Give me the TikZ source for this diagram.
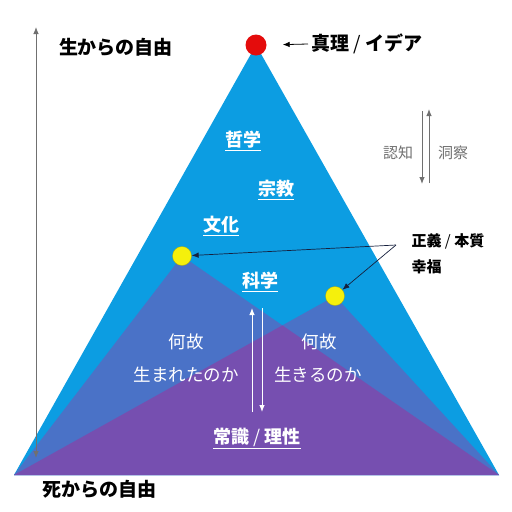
\documentclass[tikz,border=0pt]{standalone}
\usepackage{fontspec}
\setmainfont{Noto Sans CJK JP}
\usetikzlibrary{arrows.meta}
\definecolor{skyblue}{RGB}{12,157,226}
\definecolor{midblue}{RGB}{74,114,199}
\definecolor{deeppurple}{RGB}{118,79,176}
\definecolor{dotyellow}{RGB}{245,240,12}
\definecolor{dotred}{RGB}{228,12,12}
\definecolor{navy}{RGB}{22,32,62}
\definecolor{arrowgray}{RGB}{112,112,112}
\newcommand{\thinslash}{{\mdseries /}}
\tikzset{
  dot/.style={circle, inner sep=0pt, minimum size=21pt},
  title/.style={font=\fontsize{19}{22}\selectfont\bfseries, text=black},
  field/.style={font=\fontsize{18}{20}\selectfont\bfseries, text=white},
  why/.style={font=\fontsize{17.5}{20}\selectfont, text=white},
  note/.style={font=\fontsize{15}{18}\selectfont\bfseries, text=black},
  sense/.style={font=\fontsize{15}{18}\selectfont, text=arrowgray},
}
\begin{document}
\begin{tikzpicture}[x=1pt, y=-1pt, >={Latex[length=7pt,width=5.5pt]}]
    \useasboundingbox (0,0) rectangle (512,512);

    \coordinate (top) at (256,45);
    \coordinate (lapex) at (182,256);
    \coordinate (rapex) at (335,296);
    \coordinate (L) at (14,475);
    \coordinate (R) at (499,475);
    \coordinate (X) at (intersection of lapex--R and rapex--L);

    \fill[skyblue] (L) -- (top) -- (R) -- cycle;
    \fill[midblue] (L) -- (lapex) -- (R) -- cycle;
    \fill[midblue] (L) -- (rapex) -- (R) -- cycle;
    \fill[deeppurple] (L) -- (X) -- (R) -- cycle;

    \node[dot, fill=dotred] (truth) at (top) {};
    \node[dot, fill=dotyellow, draw=dotyellow!70!black, line width=0.3pt, minimum size=19pt] (ldot) at (lapex) {};
    \node[dot, fill=dotyellow, draw=dotyellow!70!black, line width=0.3pt, minimum size=19pt] (rdot) at (rapex) {};

    \node[title] (life) at (116,47) {生からの自由};
    \node[title] (death) at (99,489) {死からの自由};
    \node[title, anchor=west] (idea) at (308,44) {真理 \thinslash{} イデア};
    \draw[->, line width=0.8pt] (idea.west) -- (truth.east) [shorten >=16pt];

    \node[field] (phil) at (243,141) {\underline{哲学}};
    \node[field] (relig) at (276,190) {\underline{宗教}};
    \node[field] (cult) at (221,226) {\underline{文化}};
    \node[field] (sci) at (260,282) {\underline{科学}};
    \node[field] (sense) at (257,438) {\underline{常識 \thinslash{} 理性}};

    \node[why] (why1) at (186,342) {何故};
    \node[why] (born) at (186,375) {生まれたのか};
    \node[why] (why2) at (319,342) {何故};
    \node[why] (live) at (318,375) {生きるのか};

    \node[note, anchor=west] (justice) at (408,241) {正義 \thinslash{} 本質};
    \node[note, anchor=west] (happy) at (408,267) {幸福};
    \coordinate (fork) at (396,245);
    \draw[->, navy, line width=0.7pt] (fork) -- (ldot);
    \draw[->, navy, line width=0.7pt] (fork) -- (rdot);

    \node[sense] (cogn) at (398,153) {認知};
    \node[sense] (insight) at (453,153) {洞察};
    \draw[->, arrowgray, line width=0.9pt] (422,111) -- (422,184);
    \draw[->, arrowgray, line width=0.9pt] (429,183) -- (429,109);

    \draw[->, white, line width=0.9pt] (252,412) -- (252,308);
    \draw[->, white, line width=0.9pt] (262,308) -- (262,412);

    \draw[<->, arrowgray, line width=0.8pt] (36,458) -- (36,27);
\end{tikzpicture}
\end{document}
